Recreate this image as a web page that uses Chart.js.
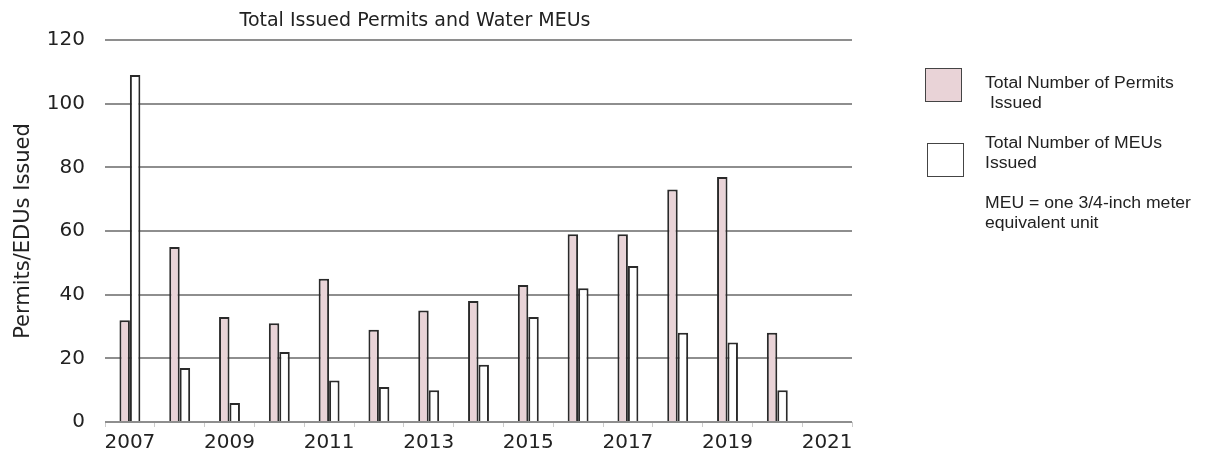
<!DOCTYPE html>
<html lang="en">
<head>
    <meta charset="UTF-8">
    <title>Total Issued Permits and Water MEUs</title>
    <script src="https://cdn.jsdelivr.net/npm/chart.js"></script>
    <style>
        body {
            margin: 0;
            background: #ffffff;
        }

        .wrap {
            position: relative;
            width: 1206px;
            height: 464px;
        }

        .title {
            position: absolute;
            left: 0;
            top: 8px;
            width: 830px;
            text-align: center;
            font-family: 'DejaVu Sans', Verdana, sans-serif;
            font-size: 19px;
            line-height: 22px;
            color: #222;
        }

        .box {
            position: absolute;
            width: 35px;
            height: 32px;
            border: 1.5px solid #444;
        }

        .txt {
            position: absolute;
            left: 985px;
            font-family: 'Liberation Sans', Arial, sans-serif;
            font-size: 16px;
            line-height: 20px;
            color: #222;
            white-space: pre;
            transform: scaleX(1.1);
            transform-origin: left top;
        }
    </style>
</head>
<body>

<div class="wrap">
    <canvas id="permits" width="1206" height="464"></canvas>
    <div class="title">Total Issued Permits and Water MEUs</div>
    <div class="box" style="left:925px; top:68px; background:#e9d3d7"></div>
    <div class="txt" style="top:73px">Total Number of Permits
 Issued</div>
    <div class="box" style="left:927px; top:143px; background:#ffffff"></div>
    <div class="txt" style="top:133px">Total Number of MEUs
Issued</div>
    <div class="txt" style="top:193px">MEU = one 3/4-inch meter
equivalent unit</div>
</div>

<script>
    var years = ['2007', '2008', '2009', '2010', '2011', '2012', '2013', '2014',
                 '2015', '2016', '2017', '2018', '2019', '2020', '2021'];
    var permitsIssued = [32, 55, 33, 31, 45, 29, 35, 38, 43, 59, 59, 73, 77, 28, null];
    var meusIssued = [109, 17, 6, 22, 13, 11, 10, 18, 33, 42, 49, 28, 25, 10, null];
    var yTicks = [0, 20, 40, 60, 80, 100, 120];

    var font = "'DejaVu Sans', Verdana, sans-serif";

    var ctx = document.getElementById('permits').getContext('2d');
    var chart = new Chart(ctx, {
        type: 'bar',
        data: {
            labels: years,
            datasets: [{
                label: 'Total Number of Permits Issued',
                data: permitsIssued,
                backgroundColor: '#e9d3d7',
                borderColor: '#2a2a2a',
                borderWidth: 2
            }, {
                label: 'Total Number of MEUs Issued',
                data: meusIssued,
                backgroundColor: '#ffffff',
                borderColor: '#2a2a2a',
                borderWidth: 2
            }]
        },
        options: {
            responsive: false,
            animation: false,
            layout: {
                padding: { left: 0, right: 354, top: 40, bottom: 5 }
            },
            datasets: {
                bar: {
                    categoryPercentage: 0.42,
                    barPercentage: 1
                }
            },
            plugins: {
                legend: { display: false },
                tooltip: { enabled: false },
                title: { display: false }
            },
            scales: {
                x: {
                    offset: true,
                    grid: {
                        display: true,
                        offset: true,
                        drawOnChartArea: false,
                        color: '#cccccc',
                        tickLength: 5
                    },
                    border: { display: false },
                    ticks: {
                        autoSkip: false,
                        maxRotation: 0,
                        color: '#222',
                        font: { family: font, size: 20 },
                        padding: 4,
                        callback: function (value, index) {
                            return index % 2 === 0 ? years[index] : '';
                        }
                    }
                },
                y: {
                    min: 0,
                    max: 120,
                    afterBuildTicks: function (scale) {
                        scale.ticks = yTicks.map(function (v) { return { value: v }; });
                    },
                    afterFit: function (scale) {
                        scale.width = 105;
                    },
                    grid: {
                        color: '#8e8e8e',
                        lineWidth: 2,
                        drawTicks: false
                    },
                    border: { display: false },
                    ticks: {
                        color: '#222',
                        font: { family: font, size: 20 },
                        padding: 20
                    },
                    title: {
                        display: true,
                        text: 'Permits/EDUs Issued',
                        color: '#222',
                        font: { family: font, size: 21 },
                        padding: { top: 11, bottom: 0 }
                    }
                }
            }
        }
    });
</script>

</body>
</html>
